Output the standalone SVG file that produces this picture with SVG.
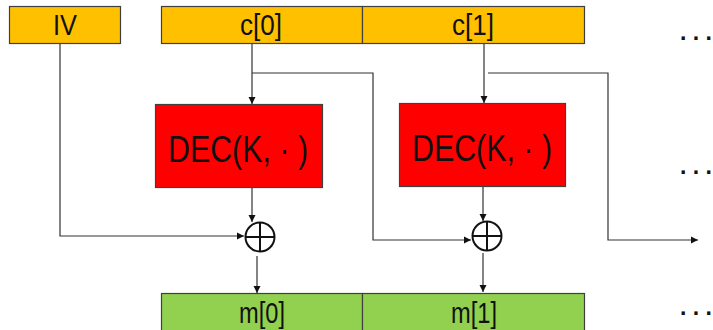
<svg xmlns="http://www.w3.org/2000/svg" width="713" height="330" viewBox="0 0 713 330">
<style>
.box{stroke:#404040;stroke-width:1.2}
.c{fill:#FFC000}
.d{fill:#FF0000}
.m{fill:#92D050}
.t{font-family:"Liberation Sans",Arial,sans-serif;font-size:30px;fill:#111;text-anchor:middle}
.dt{font-family:"Liberation Sans",Arial,sans-serif;font-size:37px;fill:#111;text-anchor:middle}
.dots{font-family:"Liberation Sans",Arial,sans-serif;font-size:23px;font-weight:bold;fill:#111}
.ln{fill:none;stroke:#333;stroke-width:1.2}
.x{fill:none;stroke:#111;stroke-width:2}
</style>
<defs>
<marker id="ah" markerWidth="8" markerHeight="8" refX="7" refY="4" orient="auto" markerUnits="userSpaceOnUse">
<path d="M0,0.5 L7,4 L0,7.5 Z" fill="#111"/>
</marker>
</defs>
<rect width="713" height="330" fill="#fff"/>

<g id="connectors">
<path class="ln" d="M60,43 V236 H244" marker-end="url(#ah)"/>
<path class="ln" d="M252,43 V104" marker-end="url(#ah)"/>
<path class="ln" d="M252,73 H373 V240 H471" marker-end="url(#ah)"/>
<path class="ln" d="M252,187 V222" marker-end="url(#ah)"/>
<path class="ln" d="M257,256 V293" marker-end="url(#ah)"/>
<path class="ln" d="M484,43 V103" marker-end="url(#ah)"/>
<path class="ln" d="M488,73 H608 V240 H698" marker-end="url(#ah)"/>
<path class="ln" d="M483,186 V221" marker-end="url(#ah)"/>
<path class="ln" d="M483,253 V292" marker-end="url(#ah)"/>
</g>

<g id="iv">
<rect class="box c" x="9.5" y="6.5" width="111" height="37"/>
<text class="t" x="65" y="35" textLength="24" lengthAdjust="spacingAndGlyphs">IV</text>
</g>
<g id="c0">
<rect class="box c" x="161.5" y="6.5" width="201" height="37"/>
<text class="t" x="261" y="35" textLength="42" lengthAdjust="spacingAndGlyphs">c[0]</text>
</g>
<g id="c1">
<rect class="box c" x="362.5" y="6.5" width="222" height="37"/>
<text class="t" x="473" y="35" textLength="42" lengthAdjust="spacingAndGlyphs">c[1]</text>
</g>

<g id="dec0">
<rect class="box d" x="155.5" y="104.5" width="167" height="83"/>
<text class="dt" x="238" y="162" textLength="140" lengthAdjust="spacingAndGlyphs">DEC(K, · )</text>
</g>
<g id="dec1">
<rect class="box d" x="399.5" y="103.5" width="166" height="83"/>
<text class="dt" x="482" y="161" textLength="140" lengthAdjust="spacingAndGlyphs">DEC(K, · )</text>
</g>

<g id="xor0">
<circle class="x" cx="260" cy="237" r="14.5"/>
<path class="x" d="M245.5,237 H274.5 M260,222.5 V251.5"/>
</g>
<g id="xor1">
<circle class="x" cx="487" cy="236" r="14.5"/>
<path class="x" d="M472.5,236 H501.5 M487,221.5 V250.5"/>
</g>

<g id="m0">
<rect class="box m" x="161.5" y="293.5" width="201" height="40"/>
<text class="t" x="262" y="323" textLength="46" lengthAdjust="spacingAndGlyphs">m[0]</text>
</g>
<g id="m1">
<rect class="box m" x="362.5" y="293.5" width="222" height="40"/>
<text class="t" x="474" y="323" textLength="46" lengthAdjust="spacingAndGlyphs">m[1]</text>
</g>

<g id="dots-top"><text class="dots" x="680" y="40">. . .</text></g>
<g id="dots-mid"><text class="dots" x="680" y="174">. . .</text></g>
<g id="dots-bot"><text class="dots" x="680" y="315">. . .</text></g>
</svg>
